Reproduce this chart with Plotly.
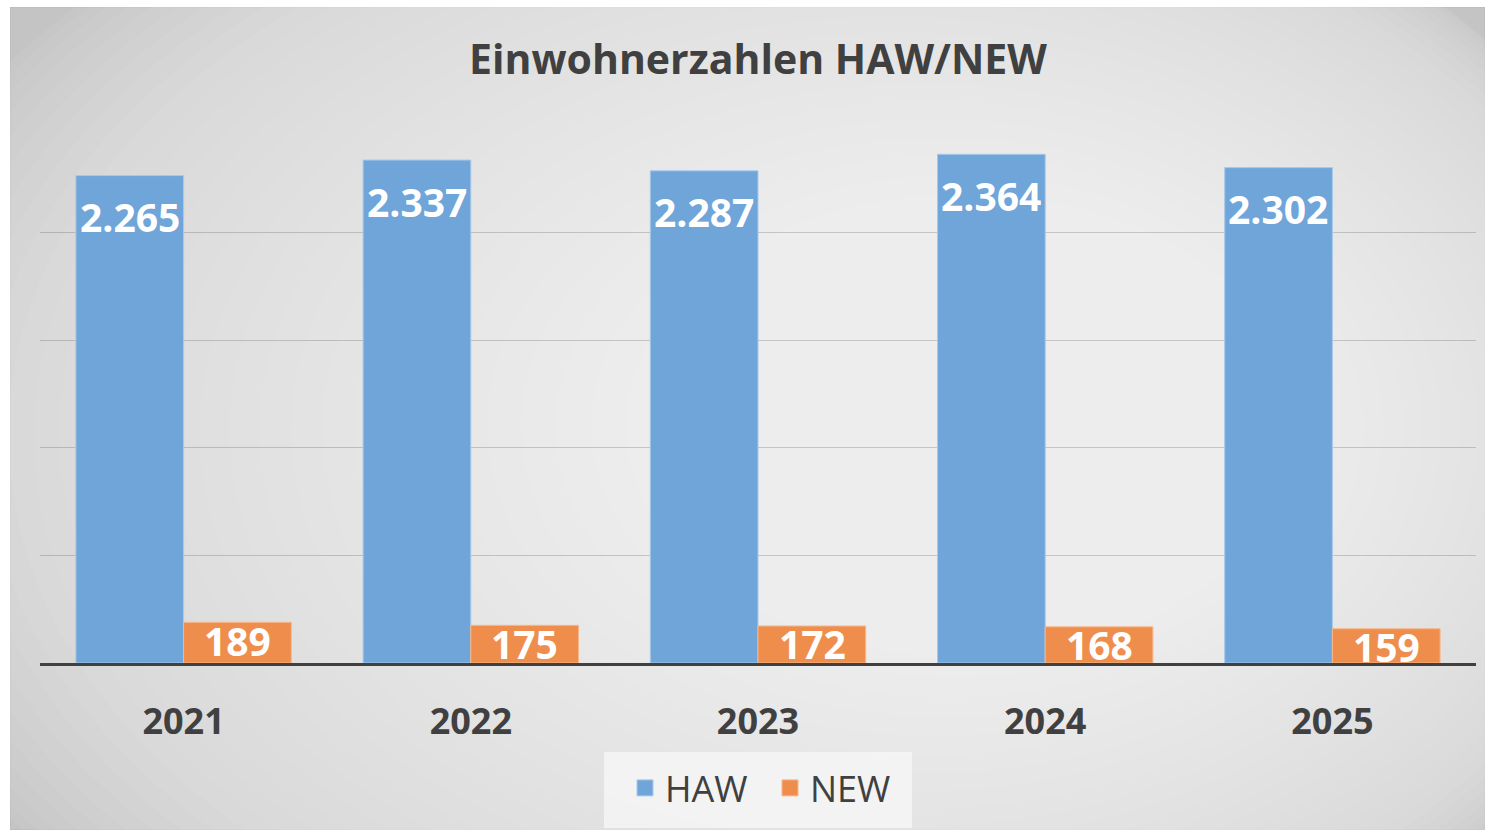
import plotly.graph_objects as go

years = ["2021", "2022", "2023", "2024", "2025"]
haw = [2265, 2337, 2287, 2364, 2302]
new = [189, 175, 172, 168, 159]

W, H = 1485, 830
L, R, T, B = 40, 9, 125, 167
PW, PH = W - L - R, H - T - B


def px_x(p):
    return (p - L) / PW


def px_y(p):
    return (H - B - p) / PH


def fmt(v):
    return f"{v:,}".replace(",", ".")


BLUE = "#6fa5d9"
ORANGE = "#ee8d4c"
DARK = "#404040"
FONT = "Open Sans"

fig = go.Figure()
fig.add_trace(go.Bar(name="HAW", x=years, y=haw, showlegend=False,
                     marker=dict(color=BLUE, line=dict(color="#a8c9ea", width=1))))
fig.add_trace(go.Bar(name="NEW", x=years, y=new, showlegend=False,
                     marker=dict(color=ORANGE, line=dict(color="#f5b88c", width=1))))
# legend entries with larger square symbols
fig.add_trace(go.Scatter(name="HAW", x=[None], y=[None], mode="markers",
                         marker=dict(symbol="square", size=20, color=BLUE, line=dict(color="#a8c9ea", width=1))))
fig.add_trace(go.Scatter(name="NEW", x=[None], y=[None], mode="markers",
                         marker=dict(symbol="square", size=20, color=ORANGE, line=dict(color="#f5b88c", width=1))))

shapes = []
# panel background with radial gradient approximation
shapes.append(dict(type="rect", xref="paper", yref="paper", layer="below",
                   x0=px_x(10), x1=px_x(1485), y0=px_y(7), y1=px_y(830),
                   fillcolor="#c4c4c4", line=dict(color="#b8b8b8", width=1)))
n = 40
for k in range(n):
    t = k / n
    cx = 760 + (1040 - 760) * t
    cy = 440 + (420 - 440) * t
    f = 1 - t ** 1.4
    rx, ry = 930 * f, 640 * f
    shapes.append(dict(type="circle", xref="paper", yref="paper", layer="below",
                       x0=px_x(cx - rx), x1=px_x(cx + rx), y0=px_y(cy + ry), y1=px_y(cy - ry),
                       fillcolor="rgba(255,255,255,0.05)", line=dict(width=0)))
# mask outside the panel
shapes.append(dict(type="rect", xref="paper", yref="paper", layer="below",
                   x0=px_x(-200), x1=px_x(10), y0=px_y(-200), y1=px_y(1030), fillcolor="white", line=dict(width=0)))
shapes.append(dict(type="rect", xref="paper", yref="paper", layer="below",
                   x0=px_x(-200), x1=px_x(1685), y0=px_y(-200), y1=px_y(7), fillcolor="white", line=dict(width=0)))
# legend background box
shapes.append(dict(type="rect", xref="paper", yref="paper", layer="below",
                   x0=px_x(604), x1=px_x(912), y0=px_y(752), y1=px_y(828),
                   fillcolor="rgba(246,246,246,0.8)", line=dict(width=0)))

annotations = []
for i, y in enumerate(years):
    annotations.append(dict(x=i, y=haw[i], xref="x", yref="y", text=fmt(haw[i]), showarrow=False,
                            xshift=-54, yshift=-41, yanchor="middle",
                            font=dict(family=FONT, size=39, color="white", weight=700)))
    annotations.append(dict(x=i, y=new[i], xref="x", yref="y", text=fmt(new[i]), showarrow=False,
                            xshift=54, yshift=-18, yanchor="middle",
                            font=dict(family=FONT, size=39, color="white", weight=700)))

fig.update_layout(
    width=W, height=H,
    margin=dict(l=L, r=R, t=T, b=B, pad=0),
    paper_bgcolor="white",
    plot_bgcolor="rgba(0,0,0,0)",
    separators=",.",
    barmode="group",
    bargap=0.25,
    bargroupgap=0,
    title=dict(text="Einwohnerzahlen HAW/NEW", x=0.5, xref="paper", xanchor="center",
               y=1 - 60 / H, yref="container", yanchor="middle",
               font=dict(family=FONT, size=41, color=DARK, weight=700)),
    xaxis=dict(type="category", automargin=False, range=[-0.5, len(years) - 0.5],
               showline=True, linecolor=DARK, linewidth=3,
               ticks="", showgrid=False,
               tickfont=dict(family=FONT, size=36, color=DARK, weight=700),
               ticklabelstandoff=25),
    yaxis=dict(range=[0, 2500], dtick=500, showticklabels=False, showgrid=True, automargin=False,
               gridcolor="rgba(0,0,0,0.17)", gridwidth=1, zeroline=False, showline=False, ticks=""),
    legend=dict(orientation="h", x=px_x(770), xanchor="center", y=px_y(758), yanchor="top",
                bgcolor="rgba(0,0,0,0)", font=dict(family=FONT, size=36, color=DARK),
                itemwidth=30, entrywidth=100, valign="middle"),
    shapes=shapes,
    annotations=annotations,
)

fig.write_html("out.html", config={"displayModeBar": False},
               post_script="document.body.style.margin='0';")
